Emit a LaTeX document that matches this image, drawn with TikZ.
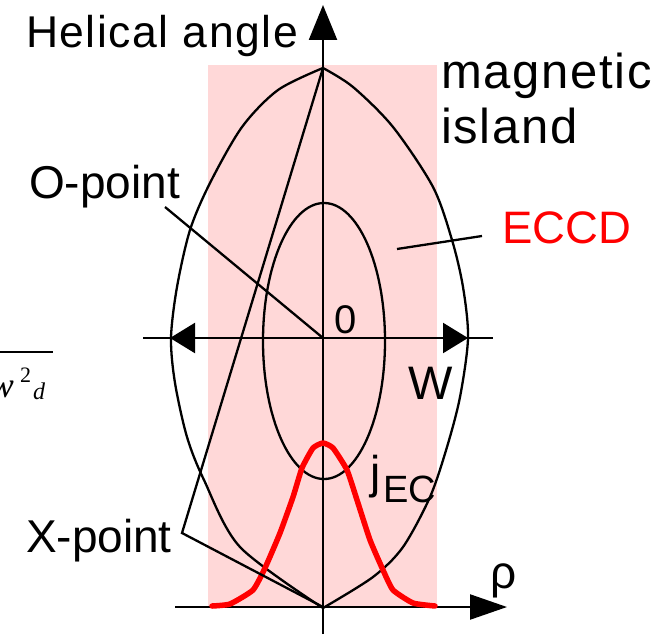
\documentclass[tikz,border=0pt]{standalone}
\usepackage{fontspec}
\setmainfont{Liberation Sans}
\newfontfamily\fragfont{Liberation Serif}
\newfontfamily\widesans[LetterSpace=3.5]{Liberation Sans}
\usetikzlibrary{arrows.meta}
\definecolor{pinkbg}{RGB}{255,216,216}
\definecolor{curvered}{RGB}{255,0,0}
\begin{document}
\begin{tikzpicture}[x=1pt,y=-1pt,line width=2.3pt,
  lbl/.style={anchor=base west,inner sep=0pt,outer sep=0pt},
  fs/.style={font=\fontsize{#1}{#1}\selectfont},
  wfs/.style={font=\widesans\fontsize{#1}{#1}\selectfont},
  ]
\useasboundingbox (0,0) rectangle (668,634);
% ECCD region
\fill[pinkbg] (208,65) rectangle (437,607);
% key coordinates
\coordinate (top) at (323,68);
\coordinate (bot) at (323,607);
\coordinate (O) at (323,338);
\coordinate (vbot) at (323,634);
\coordinate (vtop) at (323,5);
\coordinate (hleft) at (175,607);
\coordinate (hright) at (507,607);
\coordinate (wl) at (143,338);
\coordinate (wr) at (493,338);
\coordinate (wlt) at (170,338);
\coordinate (wrt) at (468,338);
% island outline
\draw[line join=round] plot[smooth,tension=0.5] coordinates {(323,68) (278,90) (242,127) (210,183) (190,230) (177,287) (171,338) (175,383) (187,437) (204,480) (240,547) (323,608)};
\draw[line join=round] plot[smooth,tension=0.5] coordinates {(323,68) (353,87) (393,127) (433,187) (452,240) (463,287) (468,338) (460,397) (447,447) (430,497) (403,547) (373,577) (323,608)};
% inner flux surface
\draw (324,341) ellipse [x radius=61pt,y radius=138pt];
% axes
\draw[-{Triangle[length=35pt,width=28pt]}] (vbot) -- (vtop);
\draw[-{Triangle[length=37pt,width=25pt]}] (hleft) -- (hright);
\draw (wl) -- (wr);
\draw[-{Triangle[length=25pt,width=30pt]}] (O) -- (wlt);
\draw[-{Triangle[length=25pt,width=30pt]}] (O) -- (wrt);
% current profile
\draw[curvered,line width=5.5pt,line join=round,line cap=round] plot[smooth,tension=0.3] coordinates {(212,606) (230,604) (253,590) (265,568) (280,533) (293,497) (302,468) (313,448) (323,443) (333,448) (347,470) (357,500) (370,540) (383,570) (393,590) (413,603) (435,606)};
% labels
\node[lbl,wfs=44.5] (hel) at (26,48) {Helical angle};
\node[lbl,wfs=49] (mag) at (441,88) {magnetic};
\node[lbl,wfs=49] (isl) at (441,143) {island};
\node[lbl,fs=46] (opt) at (29,198) {O-point};
\node[lbl,fs=45.5,text=curvered] (eccd) at (502,243) {ECCD};
\node[lbl,fs=40] (zero) at (334,333) {0};
\node[lbl,fs=47] (wlab) at (408,399) {W};
\node[lbl,fs=46] (jec) at (370,488) {j};
\node[lbl,fs=38] (ec) at (383,502) {EC};
\node[lbl,fs=46] (xpt) at (26,552) {X-point};
\node[lbl,fs=46] (rho) at (490,588) {ρ};
% label connectors
\coordinate (oend) at (165,207);
\draw (oend) -- (O);
\coordinate (xv) at (182,533);
\draw[line join=miter] (top) -- (xv) -- (bot);
\coordinate (ea) at (397,249);
\coordinate (eb) at (482,236);
\draw (ea) -- (eb);
% cropped formula fragment at left edge
\coordinate (fa) at (-5,352);
\coordinate (fb) at (53,352);
\draw[line width=1.5pt] (fa) -- (fb);
\node[lbl,font=\fragfont\itshape\fontsize{36}{36}\selectfont] (fw) at (-10,397) {w};
\node[lbl,font=\fragfont\fontsize{22}{22}\selectfont] (f2) at (20,382) {2};
\node[lbl,font=\fragfont\itshape\fontsize{24}{24}\selectfont] (fd) at (33,399) {d};
\end{tikzpicture}
\end{document}
